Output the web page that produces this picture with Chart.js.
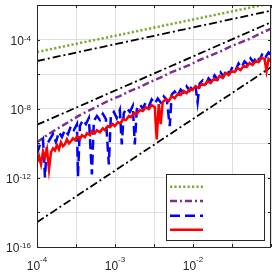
<!DOCTYPE html>
<html><head><meta charset="utf-8">
<script src="https://cdn.jsdelivr.net/npm/chart.js@4/dist/chart.umd.min.js"></script>
<style>html,body{margin:0;padding:0;background:#fff;overflow:hidden}canvas{display:block}</style>
</head><body><canvas id="c" width="272" height="274"></canvas>
<script>
// All values are log10 exponents
const xTickExps = [-4, -3.5, -3, -2.5, -2, -1.5, -1];
const yTickExps = [-16, -14, -12, -10, -8, -6, -4, -2];
const xLabelExps = [-4, -3, -2];
const yLabelExps = [-16, -12, -8, -4];

const greenX = [-4, -1];
const greenY = [-4.72, -1.9];
const blackAX = [-4, -1];
const blackAY = [-5.24, -2.33];
const blackBX = [-4, -1];
const blackBY = [-8.93, -3.0];
const blackCX = [-4, -1];
const blackCY = [-14.57, -5.6];

const purpleX = [-4.000,-3.834,-3.706,-3.578,-3.450,-3.322,-3.194,-3.066,-2.938,-2.810,-2.682,-2.554,-2.426,-2.298,-2.171,-2.043,-1.915,-1.787,-1.659,-1.531,-1.403,-1.275,-1.147,-1.006];
const purpleY = [-9.94,-9.42,-9.07,-8.72,-8.37,-8.08,-7.79,-7.50,-7.27,-6.98,-6.75,-6.46,-6.22,-5.93,-5.70,-5.47,-5.18,-4.95,-4.71,-4.42,-4.19,-3.96,-3.67,-3.38];

const blueX = [-4.000,-3.962,-3.923,-3.898,-3.872,-3.834,-3.795,-3.757,-3.719,-3.680,-3.642,-3.603,-3.565,-3.527,-3.488,-3.475,-3.450,-3.412,-3.373,-3.335,-3.296,-3.271,-3.232,-3.194,-3.156,-3.117,-3.079,-3.053,-3.015,-2.977,-2.938,-2.913,-2.887,-2.849,-2.810,-2.772,-2.746,-2.721,-2.682,-2.644,-2.606,-2.567,-2.529,-2.490,-2.452,-2.414,-2.375,-2.337,-2.298,-2.273,-2.235,-2.196,-2.158,-2.120,-2.081,-2.043,-2.006,-1.966,-1.941,-1.915,-1.876,-1.838,-1.800,-1.761,-1.723,-1.684,-1.646,-1.608,-1.569,-1.531,-1.492,-1.454,-1.416,-1.377,-1.339,-1.301,-1.262,-1.224,-1.186,-1.147,-1.109,-1.071,-1.032,-1.006];
const blueY = [-10.63,-10.05,-9.76,-11.97,-10.05,-9.76,-9.47,-9.93,-9.35,-9.64,-9.23,-9.47,-9.00,-9.23,-8.89,-11.92,-9.00,-8.65,-8.89,-8.54,-11.80,-8.71,-8.42,-8.65,-8.30,-8.59,-11.22,-8.42,-8.19,-8.54,-8.07,-10.06,-8.25,-7.96,-8.19,-7.84,-10.06,-8.05,-7.76,-7.99,-7.64,-7.87,-7.47,-7.70,-7.41,-7.64,-7.29,-7.47,-9.01,-7.18,-7.00,-7.24,-6.89,-7.06,-6.71,-6.95,-6.60,-6.77,-7.62,-6.54,-6.36,-6.60,-6.25,-6.42,-6.07,-6.31,-5.90,-6.13,-5.73,-5.96,-5.55,-5.78,-5.38,-5.61,-5.26,-5.44,-5.09,-5.32,-4.97,-5.20,-4.80,-5.03,-4.74,-4.85];

const redX = [-4.000,-3.974,-3.949,-3.923,-3.898,-3.872,-3.846,-3.821,-3.795,-3.770,-3.744,-3.719,-3.693,-3.667,-3.642,-3.616,-3.590,-3.565,-3.539,-3.512,-3.488,-3.450,-3.424,-3.386,-3.360,-3.322,-3.296,-3.258,-3.232,-3.194,-3.156,-3.130,-3.092,-3.066,-3.028,-3.002,-2.964,-2.926,-2.900,-2.861,-2.823,-2.797,-2.759,-2.721,-2.682,-2.644,-2.606,-2.567,-2.529,-2.490,-2.465,-2.439,-2.414,-2.388,-2.350,-2.311,-2.273,-2.235,-2.196,-2.158,-2.120,-2.081,-2.043,-2.006,-1.967,-1.929,-1.890,-1.852,-1.812,-1.774,-1.736,-1.697,-1.659,-1.620,-1.582,-1.544,-1.505,-1.467,-1.429,-1.390,-1.352,-1.313,-1.275,-1.237,-1.198,-1.160,-1.122,-1.083,-1.058,-1.032,-1.006];
const redY = [-11.10,-10.75,-11.22,-10.46,-10.81,-10.35,-11.51,-10.52,-10.29,-10.41,-10.11,-10.35,-9.94,-10.17,-10.06,-9.77,-10.00,-9.88,-9.71,-9.82,-9.59,-9.77,-9.53,-9.65,-9.42,-9.53,-9.30,-9.42,-9.24,-9.36,-9.13,-9.24,-9.01,-9.07,-8.89,-9.01,-8.78,-8.84,-8.60,-8.66,-8.43,-8.49,-8.26,-8.31,-8.08,-8.14,-7.91,-8.02,-7.79,-7.91,-9.77,-7.73,-8.89,-7.62,-7.44,-7.56,-7.27,-7.39,-7.15,-7.21,-6.98,-7.10,-6.86,-6.92,-6.69,-6.80,-6.57,-6.63,-6.40,-6.51,-6.28,-6.34,-6.11,-6.22,-5.93,-6.05,-5.82,-5.88,-5.64,-5.76,-5.53,-5.59,-5.35,-5.47,-5.24,-5.30,-5.06,-5.12,-5.82,-5.12,-5.24];

const C_GREEN = '#77AC30', C_PURPLE = '#7E2F8E', C_BLUE = '#0000FF', C_RED = '#FF0000', C_AX = '#262626';
const pts = (xs, ys) => xs.map((e, i) => ({x: Math.pow(10, e), y: Math.pow(10, ys[i])}));

const styles = {
  green: {borderColor: C_GREEN, borderWidth: 2.5, borderDash: [2.2, 2.2]},
  purple: {borderColor: C_PURPLE, borderWidth: 2.5, borderDash: [7, 3, 2, 3]},
  blue: {borderColor: C_BLUE, borderWidth: 2.5, borderDash: [10, 5]},
  red: {borderColor: C_RED, borderWidth: 2.5, borderDash: []},
  black: {borderColor: '#000000', borderWidth: 1.8, borderDash: [8, 3, 2, 3]}
};
function ds(data, st, order) {
  return Object.assign({data, order, pointRadius: 0, tension: 0, fill: false}, st);
}

const axesPlugin = {
  id: 'matlabAxes',
  afterDraw(chart) {
    const ctx = chart.ctx, a = chart.chartArea;
    const xs = chart.scales.x, ys = chart.scales.y;
    ctx.save();
    ctx.setLineDash([]);
    ctx.strokeStyle = C_AX; ctx.lineWidth = 1;
    ctx.beginPath();
    xTickExps.forEach(e => {
      const px = Math.round(xs.getPixelForValue(Math.pow(10, e))) + 0.5;
      ctx.moveTo(px, a.bottom); ctx.lineTo(px, a.bottom - 3);
      ctx.moveTo(px, a.top); ctx.lineTo(px, a.top + 3);
    });
    yTickExps.forEach(e => {
      const py = Math.round(ys.getPixelForValue(Math.pow(10, e))) + 0.5;
      ctx.moveTo(a.left, py); ctx.lineTo(a.left + 3, py);
      ctx.moveTo(a.right, py); ctx.lineTo(a.right - 3, py);
    });
    ctx.stroke();
    ctx.strokeRect(a.left + 0.5, a.top + 0.5, a.right - a.left - 1, a.bottom - a.top);
    const bigF = '12px "Liberation Sans", Arial, sans-serif';
    const supF = '8px "Liberation Sans", Arial, sans-serif';
    ctx.fillStyle = C_AX; ctx.textBaseline = 'alphabetic'; ctx.textAlign = 'left';
    function pow(e, mode, pos) {
      const sup = '-' + Math.abs(e);
      ctx.font = bigF; const w1 = ctx.measureText('10').width;
      ctx.font = supF; const w2 = ctx.measureText(sup).width;
      let x0, b1, b2;
      if (mode === 'y') { x0 = 31 - w1 - w2; b1 = pos + 5; b2 = pos + 1; }
      else { x0 = pos - (w1 + w2) / 2; b1 = 270; b2 = 262; }
      ctx.font = bigF; ctx.fillText('10', x0, b1);
      ctx.font = supF; ctx.fillText(sup, x0 + w1, b2);
    }
    yLabelExps.forEach(e => pow(e, 'y', ys.getPixelForValue(Math.pow(10, e))));
    xLabelExps.forEach(e => pow(e, 'x', xs.getPixelForValue(Math.pow(10, e))));
    ctx.fillStyle = '#ffffff';
    ctx.fillRect(166, 174, 99, 67);
    ctx.strokeStyle = C_AX; ctx.lineWidth = 1;
    ctx.strokeRect(166.5, 174.5, 98, 66);
    const items = [[styles.green, 186.7], [styles.purple, 201], [styles.blue, 215.7], [styles.red, 229.7]];
    items.forEach(([st, y]) => {
      ctx.strokeStyle = st.borderColor; ctx.lineWidth = st.borderWidth;
      ctx.setLineDash(st.borderDash);
      ctx.beginPath(); ctx.moveTo(170, y); ctx.lineTo(203, y); ctx.stroke();
    });
    ctx.restore();
  }
};

new Chart(document.getElementById('c'), {
  type: 'line',
  data: {
    datasets: [
      ds(pts(redX, redY), styles.red, 0),
      ds(pts(blueX, blueY), styles.blue, 1),
      ds(pts(purpleX, purpleY), styles.purple, 2),
      ds(pts(greenX, greenY), styles.green, 3),
      ds(pts(blackAX, blackAY), styles.black, 4),
      ds(pts(blackBX, blackBY), styles.black, 5),
      ds(pts(blackCX, blackCY), styles.black, 6)
    ]
  },
  options: {
    responsive: false, animation: false, devicePixelRatio: 1,
    layout: {padding: {left: 37, top: 5, right: 1, bottom: 27}},
    plugins: {legend: {display: false}, tooltip: {enabled: false}},
    scales: {
      x: {
        type: 'logarithmic', min: 1e-4, max: 1e-1,
        afterBuildTicks: ax => { ax.ticks = xTickExps.map(e => ({value: Math.pow(10, e)})); },
        ticks: {display: false},
        grid: {color: '#dfdfdf', drawTicks: false, lineWidth: 1},
        border: {display: false}
      },
      y: {
        type: 'logarithmic', min: 1e-16, max: 1e-2,
        afterBuildTicks: ax => { ax.ticks = yTickExps.map(e => ({value: Math.pow(10, e)})); },
        ticks: {display: false},
        grid: {color: '#dfdfdf', drawTicks: false, lineWidth: 1},
        border: {display: false}
      }
    }
  },
  plugins: [axesPlugin]
});
</script>
</body></html>
